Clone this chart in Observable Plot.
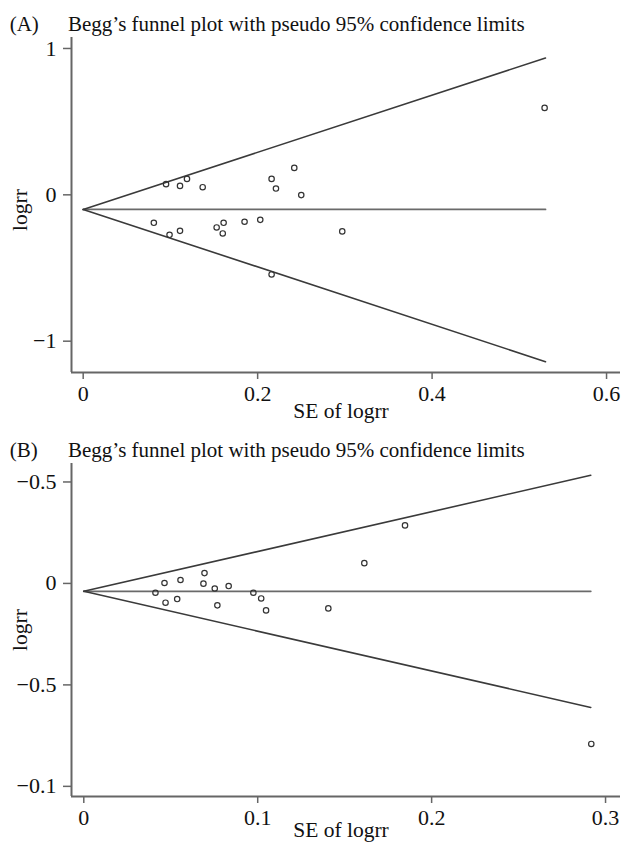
<!DOCTYPE html>
<html><head><meta charset="utf-8">
<script src="https://cdn.jsdelivr.net/npm/d3@7"></script>
<script src="https://cdn.jsdelivr.net/npm/@observablehq/plot@0.6"></script>
<style>
body{margin:0;background:#fff}
#wrap{position:relative;width:622px;height:843px;overflow:hidden;background:#fff}
.panel{position:absolute;left:0}
.panel svg{display:block}
</style></head><body><div id="wrap"></div>
<script>
// ---- text ----
const titleText = "Begg\u2019s funnel plot with pseudo 95% confidence limits";
const panelTags = ["(A)", "(B)"];
const xLabel = "SE of logrr";
const yLabel = "logrr";

// ---- Panel A data ----
const seA    = [0.095, 0.111, 0.119, 0.137, 0.216, 0.221, 0.242, 0.250, 0.081, 0.099, 0.111, 0.153, 0.161, 0.160, 0.185, 0.203, 0.216, 0.297, 0.529];
const logrrA = [0.073, 0.061, 0.109, 0.052, 0.109, 0.043, 0.184, -0.002, -0.191, -0.273, -0.246, -0.223, -0.191, -0.264, -0.184, -0.171, -0.544, -0.250, 0.594];
const funnelSeA = [0, 0.530];
const upperA  = [-0.100, 0.935];
const lowerA  = [-0.100, -1.140];
const centerA = [-0.100, -0.100];
const xDomainA = [-0.0134, 0.616];
const yDomainA = [-1.214, 1.075];
const xTicksA = [0, 0.2, 0.4, 0.6];
const xTickLabelsA = ["0", "0.2", "0.4", "0.6"];
const yTicksA = [-1, 0, 1];
const yTickLabelsA = ["\u22121", "0", "1"];

// ---- Panel B data ----
const seB    = [0.0412, 0.0464, 0.0470, 0.0537, 0.0556, 0.0694, 0.0688, 0.0753, 0.0768, 0.0833, 0.0975, 0.1020, 0.1048, 0.1406, 0.1613, 0.1847, 0.2918];
const logrrB = [-0.046, 0.002, -0.095, -0.077, 0.017, 0.051, -0.001, -0.025, -0.108, -0.013, -0.046, -0.074, -0.133, -0.123, 0.100, 0.286, -0.791];
const funnelSeB = [0, 0.2915];
const upperB  = [-0.039, 0.533];
const lowerB  = [-0.039, -0.611];
const centerB = [-0.039, -0.039];
const xDomainB = [-0.00707, 0.3086];
const yDomainB = [-1.050, 0.591];
const xTicksB = [0, 0.1, 0.2, 0.3];
const xTickLabelsB = ["0", "0.1", "0.2", "0.3"];
const yTicksB = [0.5, 0, -0.5, -1];
const yTickLabelsB = ["\u22120.5", "0", "\u22120.5", "\u22120.1"];

const FONT = "'Liberation Serif', 'Times New Roman', serif";

function panel(o) {
  const pts = o.se.map((s, i) => ({se: s, lr: o.lr[i]}));
  const fun = o.fSe.map((s, i) => ({se: s, up: o.up[i], lo: o.lo[i], ce: o.ce[i]}));
  const fmtY = d => o.yTickLabels[o.yTicks.indexOf(d)];
  const fmtX = d => o.xTickLabels[o.xTicks.indexOf(d)];
  const svg = Plot.plot({
    width: 622, height: o.height,
    marginTop: o.marginTop, marginBottom: o.marginBottom, marginLeft: 71, marginRight: 2,
    style: {fontFamily: FONT, background: "#fff", color: "#111", overflow: "visible"},
    x: {domain: o.xDomain},
    y: {domain: o.yDomain},
    marks: [
      Plot.ruleX([o.xDomain[0]], {stroke: "#666", strokeWidth: 2}),
      Plot.ruleY([o.yDomain[0]], {stroke: "#666", strokeWidth: 2}),
      Plot.axisX({ticks: o.xTicks, tickFormat: fmtX, tickSize: 7, tickPadding: 6, fontSize: 22, stroke: "#666", strokeWidth: 1.5, fill: "#111", label: null}),
      Plot.axisY({ticks: o.yTicks, tickFormat: fmtY, tickSize: 8, tickPadding: 7, fontSize: 22, stroke: "#666", strokeWidth: 1.5, fill: "#111", label: null}),
      Plot.line(fun, {x: "se", y: "ce", stroke: "#6a6a6a", strokeWidth: 1.8}),
      Plot.line(fun, {x: "se", y: "up", stroke: "#3a3a3a", strokeWidth: 1.6}),
      Plot.line(fun, {x: "se", y: "lo", stroke: "#3a3a3a", strokeWidth: 1.6}),
      Plot.dot(pts, {x: "se", y: "lr", r: 2.7, stroke: "#333", strokeWidth: 1.2, fill: "none"})
    ]
  });
  const s = d3.select(svg);
  const t = (x, y, anchor) => s.append("text").attr("x", x).attr("y", y)
    .attr("text-anchor", anchor).attr("font-family", FONT).attr("fill", "#111");
  t(9.7, 31, "start").attr("font-size", 21).text(o.tag);
  t(68, 31, "start").attr("font-size", 21).text(titleText);
  s.append("text").attr("transform", `translate(27,${o.yLabelCenter}) rotate(-90)`)
    .attr("text-anchor", "middle").attr("font-family", FONT).attr("font-size", 21.5).attr("fill", "#111").text(yLabel);
  t(341, o.xLabelBaseline, "middle").attr("font-size", 21.5).text(xLabel);
  const div = document.createElement("div");
  div.className = "panel";
  div.style.top = o.top + "px";
  div.appendChild(svg);
  document.getElementById("wrap").appendChild(div);
}

panel({se: seA, lr: logrrA, fSe: funnelSeA, up: upperA, lo: lowerA, ce: centerA,
  xDomain: xDomainA, yDomain: yDomainA, xTicks: xTicksA, xTickLabels: xTickLabelsA, yTicks: yTicksA, yTickLabels: yTickLabelsA,
  tag: panelTags[0], top: 0, height: 426, marginTop: 37, marginBottom: 54, yLabelCenter: 210, xLabelBaseline: 418});
panel({se: seB, lr: logrrB, fSe: funnelSeB, up: upperB, lo: lowerB, ce: centerB,
  xDomain: xDomainB, yDomain: yDomainB, xTicks: xTicksB, xTickLabels: xTickLabelsB, yTicks: yTicksB, yTickLabels: yTickLabelsB,
  tag: panelTags[1], top: 426, height: 417, marginTop: 37, marginBottom: 47, yLabelCenter: 204, xLabelBaseline: 411});
</script></body></html>
